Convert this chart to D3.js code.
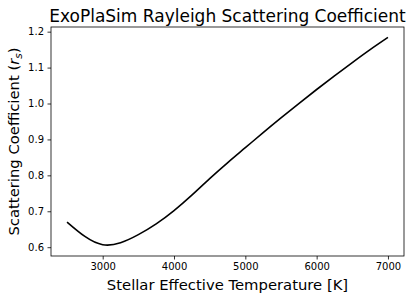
<!DOCTYPE html>
<meta charset="utf-8">
<head>
	<title>ExoPlaSim Rayleigh</title>
</head>

<style>
	body { margin: 0; background: #fff; }
	text { font-family: "DejaVu Sans", sans-serif; fill: #000; }
</style>

<body>
	<svg width="415" height="300"></svg>

	<script src="https://d3js.org/d3.v7.min.js"></script>
	<script>
// values
var temps = [2500, 2750, 3000, 3250, 3500, 3750, 4000, 4250, 4500, 4750,
	5000, 5250, 5500, 5750, 6000, 6250, 6500, 6750, 7000];
var coeffs = [0.670, 0.630, 0.607, 0.6125, 0.635, 0.665, 0.702, 0.745,
	0.791, 0.835, 0.877, 0.919, 0.960, 1.000, 1.039, 1.077, 1.114, 1.150, 1.184];
var xTicks = [3000, 4000, 5000, 6000, 7000];
var yTicks = [0.6, 0.7, 0.8, 0.9, 1.0, 1.1, 1.2];

var mLeft = 51, mRight = 404, mTop = 27, mBottom = 256;

var svg = d3.select('svg');

var x = d3.scaleLinear().domain([2275, 7225]).range([mLeft, mRight]);
var y = d3.scaleLinear().domain([0.5755, 1.213]).range([mBottom, mTop]);

var data = temps.map(function(t, i) { return {t: t, v: coeffs[i]}; });

// axes
var xAxis = svg.append('g')
	.attr('transform', 'translate(0,' + mBottom + ')')
	.call(d3.axisBottom(x).tickValues(xTicks).tickSize(3.5).tickPadding(3.5).tickFormat(d3.format('d')));
var yAxis = svg.append('g')
	.attr('transform', 'translate(' + mLeft + ',0)')
	.call(d3.axisLeft(y).tickValues(yTicks).tickSize(3.5).tickPadding(3.5).tickFormat(d3.format('.1f')));

[xAxis, yAxis].forEach(function(a) {
	a.select('.domain').remove();
	a.selectAll('line').attr('stroke', '#000').attr('stroke-width', 0.8);
	a.selectAll('text').style('font-family', '"DejaVu Sans", sans-serif').style('font-size', '10px');
});

// frame
svg.append('rect')
	.attr('x', mLeft).attr('y', mTop)
	.attr('width', mRight - mLeft).attr('height', mBottom - mTop)
	.attr('fill', 'none').attr('stroke', '#000').attr('stroke-width', 0.8);

// curve
var line = d3.line()
	.x(function(d) { return x(d.t); })
	.y(function(d) { return y(d.v); })
	.curve(d3.curveNatural);

svg.append('path')
	.datum(data)
	.attr('d', line)
	.attr('fill', 'none')
	.attr('stroke', '#000')
	.attr('stroke-width', 1.6);

// labels
svg.append('text')
	.attr('x', (mLeft + mRight) / 2).attr('y', 21.5)
	.attr('text-anchor', 'middle')
	.style('font-size', '17px')
	.text('ExoPlaSim Rayleigh Scattering Coefficient');

svg.append('text')
	.attr('x', (mLeft + mRight) / 2).attr('y', 290)
	.attr('text-anchor', 'middle')
	.style('font-size', '14.8px')
	.text('Stellar Effective Temperature [K]');

var yl = svg.append('text')
	.attr('transform', 'translate(19,' + (mTop + mBottom) / 2 + ') rotate(-90)')
	.attr('text-anchor', 'middle')
	.style('font-size', '14.8px');
yl.append('tspan').text('Scattering Coefficient (');
yl.append('tspan').style('font-style', 'italic').text('r');
yl.append('tspan').attr('dy', 3).style('font-size', '10.5px').style('font-style', 'italic').text('s');
yl.append('tspan').attr('dy', -3).text(')');
	</script>
</body>
</html>
